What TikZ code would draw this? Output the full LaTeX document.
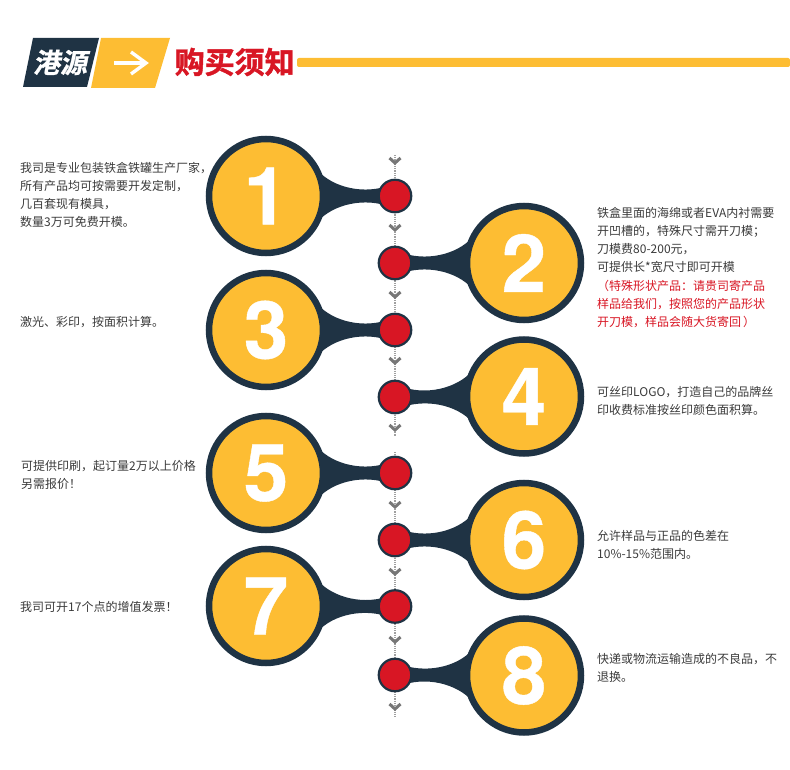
\documentclass[tikz,border=0pt]{standalone}
\usepackage{fontspec}
\setmainfont{Noto Sans CJK SC}
\newfontfamily\numfont[BoldFeatures={FakeBold=0.5}]{TeX Gyre Heros}
\newfontfamily\logofont[FakeSlant=0.2,FakeBold=1]{Noto Sans CJK SC Bold}
\newfontfamily\titlefont[FakeBold=1.5]{Noto Sans CJK SC Bold}
\usetikzlibrary{backgrounds}
\definecolor{navy}{HTML}{1F3344}
\definecolor{sunny}{HTML}{FDBD33}
\definecolor{signred}{HTML}{D81624}
\definecolor{bodytext}{HTML}{3A3A3A}
\definecolor{guide}{HTML}{777777}
\tikzset{
  head/.style={circle, draw=navy, fill=sunny, line width=6.5pt, inner sep=0pt, outer sep=0pt,
    minimum size=114pt, text=white, font=\numfont\bfseries\fontsize{80}{80}\selectfont},
  dot/.style={circle, draw=navy, fill=signred, line width=2.2pt, inner sep=0pt, outer sep=0pt, minimum size=32.5pt},
  note/.style={anchor=west, align=left, inner sep=0pt, text=bodytext, font=\fontsize{12}{18.2}\selectfont},
  chevron/.style={draw=guide, line width=3pt},
  guideline/.style={draw=guide!70, densely dotted, line width=1.2pt},
}
\newcommand{\paddleneck}[5]{%
  \fill[navy] (#1.#3) .. controls +(#5*11,20) and +(#5*-27,6) .. (#2.#4)
    -- (#2.-#4) .. controls +(#5*-27,-6) and +(#5*11,-20) .. (#1.-#3) -- cycle;}
\begin{document}
\begin{tikzpicture}[x=1pt, y=-1pt]
    \useasboundingbox (0,0) rectangle (790,770);
    % header
    \fill[navy] (33,38) -- (99,38) -- (87,87) -- (23,87) -- cycle;
    \fill[sunny] (101,38) -- (170,38) -- (155,88) -- (91,88) -- cycle;
    \fill[sunny, rounded corners=2pt] (297,58) rectangle (790,67);
    \node[text=white, inner sep=0pt, font=\logofont\fontsize{27}{27}\selectfont] (logo) at (60,62.5) {港源};
    \coordinate (arrowstart) at (114,63);
    \coordinate (arrowend) at (146,63);
    \draw[white, line width=3.4pt] (arrowstart) -- (arrowend);
    \draw[white, line width=3.4pt] (131,52) -- (arrowend) -- (131,74);
    \node[text=signred, anchor=west, inner sep=0pt, font=\titlefont\fontsize{30}{30}\selectfont] (title) at (174.5,62) {购买须知};
    % guide line
    \coordinate (guidetop) at (395,155);
    \coordinate (guidebreak) at (395,436);
    \coordinate (guideresume) at (395,452);
    \coordinate (guidebot) at (395,717);
    \draw[guideline] (guidetop) -- (guidebreak);
    \draw[guideline] (guideresume) -- (guidebot);
    \foreach \y in {161,228,295,361,428,505,572,640,707}
        \draw[chevron] (389.5,\y-3) -- (395,\y+2) -- (400.5,\y-3);
    % paddles
    \node[head] (h1) at (266,196) {1};
    \node[dot] (r1) at (395,196) {};
    \node[head] (h2) at (524,263) {2};
    \node[dot] (r2) at (395,263) {};
    \node[head] (h3) at (266,330) {3};
    \node[dot] (r3) at (395,330) {};
    \node[head] (h4) at (524,396.5) {4};
    \node[dot] (r4) at (395,397) {};
    \node[head] (h5) at (266,473) {5};
    \node[dot] (r5) at (395,473) {};
    \node[head] (h6) at (524,540) {6};
    \node[dot] (r6) at (395,540) {};
    \node[head] (h7) at (266,606) {7};
    \node[dot] (r7) at (395,606.5) {};
    \node[head] (h8) at (524,675.5) {8};
    \node[dot] (r8) at (395,675) {};
    \begin{scope}[on background layer]
        \paddleneck{h1}{r1}{35}{150}{1}
        \paddleneck{h2}{r2}{145}{30}{-1}
        \paddleneck{h3}{r3}{35}{150}{1}
        \paddleneck{h4}{r4}{145}{30}{-1}
        \paddleneck{h5}{r5}{35}{150}{1}
        \paddleneck{h6}{r6}{145}{30}{-1}
        \paddleneck{h7}{r7}{35}{150}{1}
        \paddleneck{h8}{r8}{145}{30}{-1}
    \end{scope}
    % notes
    \node[note] (n1) at (20,195) {我司是专业包装铁盒铁罐生产厂家，\\所有产品均可按需要开发定制，\\几百套现有模具，\\数量3万可免费开模。};
    \node[note] (n2) at (597,267.5) {铁盒里面的海绵或者EVA内衬需要\\开凹槽的，特殊尺寸需开刀模；\\刀模费80-200元，\\可提供长*宽尺寸即可开模\\\textcolor{signred}{（特殊形状产品：请贵司寄产品}\\\textcolor{signred}{样品给我们，按照您的产品形状}\\\textcolor{signred}{开刀模，样品会随大货寄回\,）}};
    \node[note] (n3) at (20,322) {激光、彩印，按面积计算。};
    \node[note] (n4) at (597,401) {可丝印LOGO，打造自己的品牌丝\\印收费标准按丝印颜色面积算。};
    \node[note] (n5) at (21,475) {可提供印刷，起订量2万以上价格\\另需报价！};
    \node[note] (n6) at (597,545) {允许样品与正品的色差在\\10\%-15\%范围内。};
    \node[note] (n7) at (20,607) {我司可开17个点的增值发票！};
    \node[note] (n8) at (597,668) {快递或物流运输造成的不良品，不\\退换。};
\end{tikzpicture}
\end{document}
